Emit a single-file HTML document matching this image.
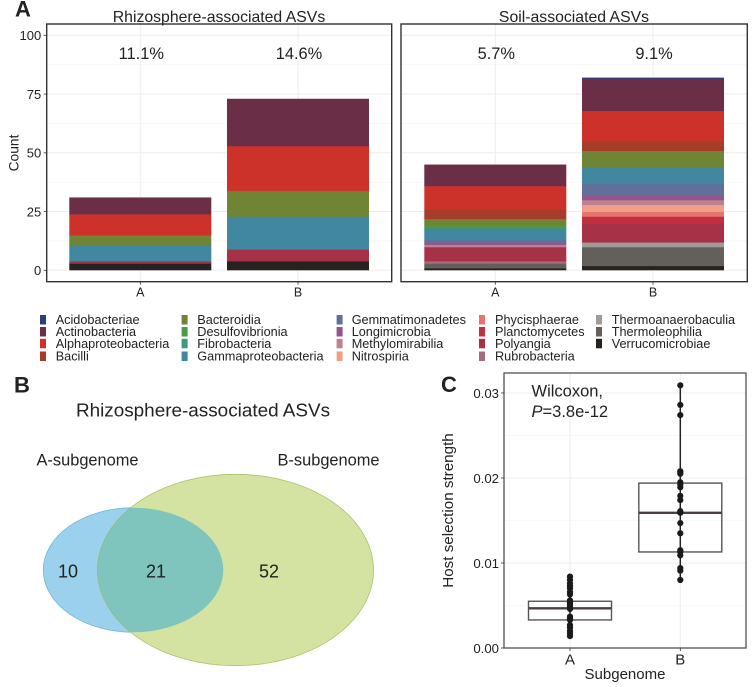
<!DOCTYPE html>
<html lang="en">
<head>
<meta charset="utf-8">
<title>Rhizosphere and soil ASVs</title>
<style>
html,body{margin:0;padding:0;background:#fff;width:756px;height:687px;overflow:hidden}
svg{display:block;font-family:"Liberation Sans",sans-serif;filter:blur(0.3px)}
text{fill:#222}
</style>
</head>
<body>
<svg id="fig" xmlns="http://www.w3.org/2000/svg" width="756" height="687" viewBox="0 0 756 687">
  <rect width="756" height="687" fill="#fff"/>

  <text x="15" y="16.5" font-size="22" font-weight="bold">A</text>
  <text x="14" y="392.7" font-size="22" font-weight="bold">B</text>
  <text x="441" y="392" font-size="22" font-weight="bold">C</text>

  <g id="barsLayer"></g>
  <g id="legendLayer"></g>

  <g>
    <text x="203" y="416.7" font-size="18.9" text-anchor="middle">Rhizosphere-associated ASVs</text>
    <text x="36.5" y="465.7" font-size="16.4">A-subgenome</text>
    <text x="277.5" y="465.7" font-size="16.4">B-subgenome</text>
    <ellipse cx="133.3" cy="570" rx="90" ry="62.3" fill="#9bd1ec" stroke="#6fb6d6" stroke-width="0.8"/>
    <ellipse cx="235.5" cy="570" rx="138" ry="95.7" fill="#d5e3a2" stroke="#a9c46a" stroke-width="0.8"/>
    <clipPath id="clipA"><ellipse cx="133.3" cy="570" rx="90" ry="62.3"/></clipPath>
    <ellipse cx="235.5" cy="570" rx="138" ry="95.7" fill="#7fc4bd" stroke="#8fbd83" stroke-width="0.8" clip-path="url(#clipA)"/>
    <text x="68" y="577.7" font-size="18" text-anchor="middle">10</text>
    <text x="156" y="577.7" font-size="18" text-anchor="middle">21</text>
    <text x="269" y="577.7" font-size="18" text-anchor="middle">52</text>
  </g>

  <g id="boxLayer"></g>
</svg>

<script>
// ---- Stacked bar data (bottom-to-top order is the reverse of taxa) ----
const taxa = ["Acidobacteriae","Actinobacteria","Alphaproteobacteria","Bacilli","Bacteroidia","Desulfovibrionia","Fibrobacteria","Gammaproteobacteria","Gemmatimonadetes","Longimicrobia","Methylomirabilia","Nitrospiria","Phycisphaerae","Planctomycetes","Polyangia","Rubrobacteria","Thermoanaerobaculia","Thermoleophilia","Verrucomicrobiae"];
const taxaColors = ["#2c3e80","#6a2f47","#cd322a","#a63d2a","#6f8535","#4a9b47","#3c9a80","#41879f","#61709a","#955390","#c0808f","#f09e87","#e8736b","#c2303f","#a73247","#a96a7d","#a09b96","#635f5a","#26221f"];
const rhizoA = [0,7,9,0,4,0,0,7,0,0,0,0,0,0,1,0,0,0,3];
const rhizoB = [0,20,19,0,11,0,0,14,0,0,0,0,0,0,5,0,0,0,4];
const soilA  = [0,9,10,4,3,1,0,5,1,1,1,0,0,0,6,1,0,2,1];
const soilB  = [0.3,13.7,13,4,7,0,0,7,5,2,2,3,2,3,8,0,2,8,2];
const barCategories = ["A","B"];
const barTicks = [0,25,50,75,100];
const rhizoPercents = ["11.1%","14.6%"];
const soilPercents = ["5.7%","9.1%"];

// ---- Box plot data ----
const boxCategories = ["A","B"];
const boxTicks = [0,0.01,0.02,0.03];
const boxTickLabels = ["0.00","0.01","0.02","0.03"];
const pointsA = [0.0084,0.0080,0.0076,0.0073,0.0070,0.0066,0.0063,0.0056,0.0054,0.0052,0.0050,0.0048,0.0046,0.0037,0.0035,0.0033,0.0027,0.0024,0.0020,0.0017,0.0014];
const pointsB = [0.0309,0.0286,0.0274,0.0208,0.0207,0.0205,0.0195,0.0192,0.0189,0.0179,0.0174,0.0161,0.0159,0.0147,0.0135,0.0115,0.0113,0.0109,0.0094,0.0091,0.0080];
const boxStatsA = [0.0033,0.00467,0.0055];
const boxStatsB = [0.0113,0.0159,0.0194];

const NS = "http://www.w3.org/2000/svg";
function mk(parent, tag, attrs, txt){
  const e = document.createElementNS(NS, tag);
  for (const k in attrs) e.setAttribute(k, attrs[k]);
  if (txt !== undefined) e.textContent = txt;
  parent.appendChild(e);
  return e;
}

// ---- Stacked bars ----
const barsLayer = document.getElementById("barsLayer");
const yBar = v => 270.3 - v * 2.35;

function drawPanel(cfg){
  const g = mk(barsLayer, "g", {});
  
  
  const xBar = i => cfg.xA + i * (cfg.xB - cfg.xA);

  // gridlines
  [12.5,37.5,62.5,87.5].forEach(v => {
    const l = mk(g, "line", {x1:cfg.left, x2:cfg.right, y1:yBar(v), y2:yBar(v), stroke:"#f5f3f3", "stroke-width":0.6});
    
    
  });
  barTicks.forEach(v => {
    const l = mk(g, "line", {x1:cfg.left, x2:cfg.right, y1:yBar(v), y2:yBar(v), stroke:"#efecec", "stroke-width":1});
    
    
  });
  barCategories.forEach((c,i) => {
    const l = mk(g, "line", {x1:xBar(i), x2:xBar(i), y1:cfg.top, y2:cfg.bottom, stroke:"#efecec", "stroke-width":1});
    
    
  });

  // stacks
  cfg.series.forEach((vals,i) => {
    let base = 0;
    for (let t = taxa.length - 1; t >= 0; t--) {
      const v = vals[t];
      if (!v) continue;
      const overlap = base > 0 ? 0.5 : 0;
      const r = mk(g, "rect", {x:xBar(i) - cfg.half, width:cfg.half * 2, y:yBar(base + v), height:v * 2.35 + overlap, fill:taxaColors[t]});
      
      
      base += v;
    }
    const p = mk(g, "text", {x:xBar(i) + 1, y:59, "font-size":16.4, "text-anchor":"middle"}, cfg.percents[i]);
    
    
  });

  // frame
  const f = mk(g, "rect", {x:cfg.left, y:cfg.top, width:cfg.right - cfg.left, height:cfg.bottom - cfg.top, fill:"none", stroke:"#333", "stroke-width":1.4});
  
  

  // title
  const t = mk(g, "text", {x:cfg.titleX, y:22, "font-size":15.8, "text-anchor":"middle", fill:"#333"}, cfg.title);
  
  

  // x axis
  barCategories.forEach((c,i) => {
    const tk = mk(g, "line", {x1:xBar(i), x2:xBar(i), y1:cfg.bottom, y2:cfg.bottom + 3, stroke:"#333", "stroke-width":0.8});
    
    
    const lb = mk(g, "text", {x:xBar(i), y:296.7, "font-size":12.5, "text-anchor":"middle", fill:"#333"}, c);
    
    
  });

  // y axis (left panel only)
  if (cfg.yAxis) {
    barTicks.forEach(v => {
      const tk = mk(g, "line", {x1:cfg.left - 3, x2:cfg.left, y1:yBar(v), y2:yBar(v), stroke:"#333", "stroke-width":0.8});
      
      
      const lb = mk(g, "text", {x:cfg.left - 5.5, y:yBar(v) + 4.7, "font-size":13, "text-anchor":"end", fill:"#333"}, String(v));
      
      
    });
    const yt = mk(g, "text", {x:0, y:0, "font-size":13.8, "text-anchor":"middle", fill:"#333", transform:"translate(18.5,153) rotate(-90)"}, "Count");
    
    
  }
}

drawPanel({name:"rhizosphere-panel", title:"Rhizosphere-associated ASVs", titleX:219, left:46.7, right:391.7, top:24, bottom:281.7, xA:140.3, xB:298, half:71, series:[rhizoA,rhizoB], percents:rhizoPercents, yAxis:true});
drawPanel({name:"soil-panel", title:"Soil-associated ASVs", titleX:574, left:401, right:747.3, top:24, bottom:281.7, xA:495.3, xB:653, half:71, series:[soilA,soilB], percents:soilPercents, yAxis:false});

// ---- Legend ----
const legendLayer = document.getElementById("legendLayer");
const legendCols = [[0,4,40,55.7],[4,8,181.6,197.3],[8,12,336.6,351.7],[12,16,479,495],[16,19,596,611.7]];
const legendRows = [320,332,343.8,356.5];
legendCols.forEach(col => {
  for (let t = col[0]; t < col[1]; t++) {
    const y = legendRows[t - col[0]];
    const s = mk(legendLayer, "rect", {x:col[2], y:y - 5, width:6, height:9.5, fill:taxaColors[t]});
    
    
    const l = mk(legendLayer, "text", {x:col[3], y:y + 4, "font-size":12.7, fill:"#333"}, taxa[t]);
    
    
  }
});

// ---- Box plot ----
const boxLayer = document.getElementById("boxLayer");
const yBox = v => 648 - v * 8500;
const xBox = i => 570 + i * 110.3;
const boxL = 504, boxR = 746, boxT = 373, boxB = 648;

[0.005,0.015,0.025].forEach(v => {
  const l = mk(boxLayer, "line", {x1:boxL, x2:boxR, y1:yBox(v), y2:yBox(v), stroke:"#f5f3f3", "stroke-width":0.6});
  
  
});
boxTicks.forEach(v => {
  const l = mk(boxLayer, "line", {x1:boxL, x2:boxR, y1:yBox(v), y2:yBox(v), stroke:"#efecec", "stroke-width":1});
  
  
});
boxCategories.forEach((c,i) => {
  const l = mk(boxLayer, "line", {x1:xBox(i), x2:xBox(i), y1:boxT, y2:boxB, stroke:"#efecec", "stroke-width":1});
  
  
});

[[pointsA,boxStatsA],[pointsB,boxStatsB]].forEach((d,i) => {
  const pts = d[0], st = d[1], cx = xBox(i);
  const w = mk(boxLayer, "line", {x1:cx, x2:cx, y1:yBox(Math.min.apply(null, pts)), y2:yBox(Math.max.apply(null, pts)), stroke:"#222", "stroke-width":1.5});
  
  
  const b = mk(boxLayer, "rect", {x:cx - 41.5, width:83, y:yBox(st[2]), height:yBox(st[0]) - yBox(st[2]), fill:"none", stroke:"#555", "stroke-width":1.4});
  
  
  const m = mk(boxLayer, "line", {x1:cx - 41.5, x2:cx + 41.5, y1:yBox(st[1]), y2:yBox(st[1]), stroke:"#4a3f3f", "stroke-width":2.4});
  
  
  pts.forEach(v => {
    const c = mk(boxLayer, "circle", {cx:cx, cy:yBox(v), r:3.1, fill:"#1a1a1a"});
    
    
  });
});

const boxFrame = mk(boxLayer, "rect", {x:boxL, y:boxT, width:boxR - boxL, height:boxB - boxT, fill:"none", stroke:"#444", "stroke-width":1.2});



boxTicks.forEach((v,i) => {
  const tk = mk(boxLayer, "line", {x1:boxL - 3, x2:boxL, y1:yBox(v), y2:yBox(v), stroke:"#333", "stroke-width":0.8});
  
  
  const lb = mk(boxLayer, "text", {x:499, y:yBox(v) + 4.8, "font-size":13.2, "text-anchor":"end", fill:"#333"}, boxTickLabels[i]);
  
  
});
boxCategories.forEach((c,i) => {
  const tk = mk(boxLayer, "line", {x1:xBox(i), x2:xBox(i), y1:boxB, y2:boxB + 3, stroke:"#333", "stroke-width":0.8});
  
  
  const lb = mk(boxLayer, "text", {x:xBox(i), y:664.5, "font-size":15, "text-anchor":"middle", fill:"#333"}, c);
  
  
});
const bxt = mk(boxLayer, "text", {x:625, y:679, "font-size":15, "text-anchor":"middle", fill:"#333"}, "Subgenome");


const byt = mk(boxLayer, "text", {x:0, y:0, "font-size":15.2, "text-anchor":"middle", fill:"#333", transform:"translate(453,510.5) rotate(-90)"}, "Host selection strength");



const w1 = mk(boxLayer, "text", {x:531.5, y:396.7, "font-size":16.5}, "Wilcoxon,");


const w2 = mk(boxLayer, "text", {x:531.5, y:417, "font-size":16.5});


mk(w2, "tspan", {"font-style":"italic"}, "P");
mk(w2, "tspan", {}, "=3.8e-12");
</script>
</body>
</html>
